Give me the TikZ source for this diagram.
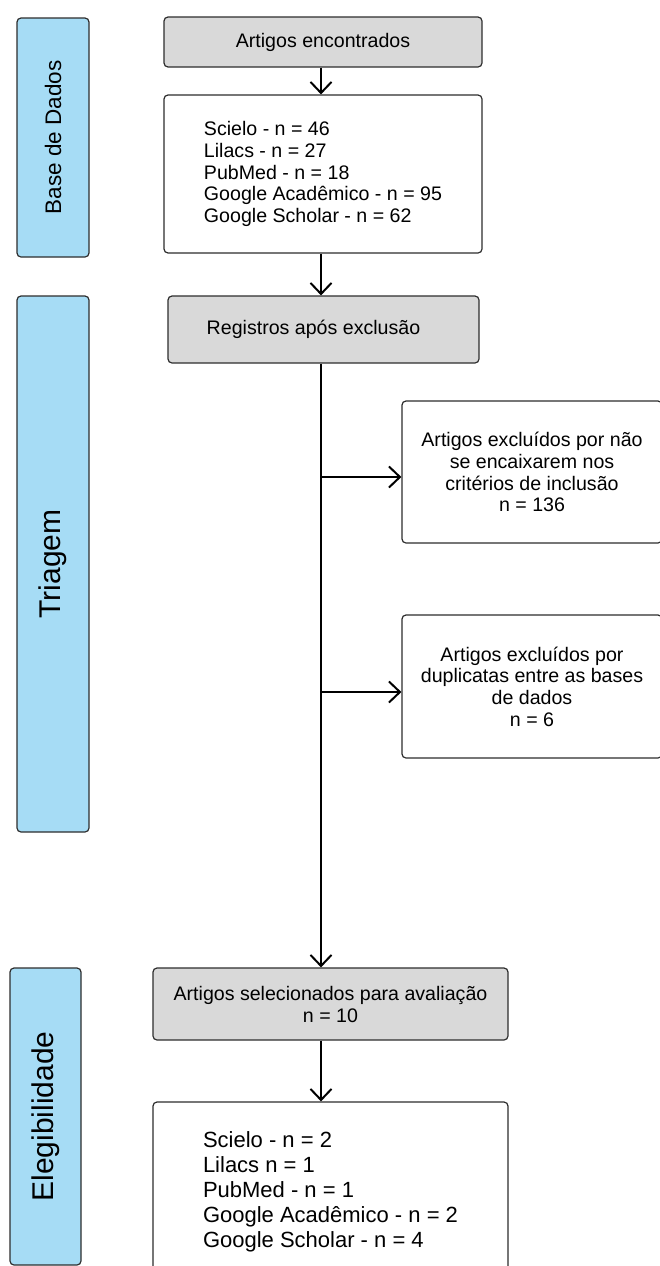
\documentclass[tikz,border=0pt]{standalone}
\usepackage{fontspec}
\setmainfont{Liberation Sans}
\usetikzlibrary{arrows.meta}
\definecolor{lanefill}{HTML}{A6DCF5}
\definecolor{grayfill}{HTML}{D9D9D9}
\definecolor{edgecol}{HTML}{2E2E2E}
\tikzset{
  lanebox/.style={draw=edgecol, fill=lanefill, line width=1.2pt, rounded corners=4pt, rotate=90, inner sep=0pt},
  graybox/.style={draw=edgecol, fill=grayfill, line width=1.2pt, rounded corners=4pt, align=center, inner sep=0pt, font=\fontsize{19.6}{22}\selectfont},
  whitebox/.style={draw=edgecol, fill=white, line width=1.2pt, rounded corners=4pt, align=center, inner sep=0pt, font=\fontsize{19.6}{21.75}\selectfont},
  listbox/.style={whitebox, align=left},
  flow/.style={line width=2pt, -{Straight Barb[length=11pt,width=21pt,line width=2pt]}},
}
\begin{document}
\begin{tikzpicture}[x=1pt, y=-1pt]
\useasboundingbox (0,0) rectangle (660,1266);
\fill[white] (0,0) rectangle (660,1266);
\clip (0,0) rectangle (660,1266);

% lanes
\node[lanebox, minimum width=239pt, minimum height=72pt, font=\fontsize{22.5}{26}\selectfont] (lane1) at (53,137.5) {Base de Dados};
\node[lanebox, minimum width=536pt, minimum height=72pt, font=\fontsize{30}{34}\selectfont] (lane2) at (53,564) {Triagem};
\node[lanebox, minimum width=297pt, minimum height=71pt, font=\fontsize{30}{34}\selectfont] (lane3) at (45.5,1116.5) {Elegibilidade};

% boxes
\node[graybox, minimum width=318pt, minimum height=50pt] (g1) at (323,42) {Artigos encontrados};
\node[listbox, minimum width=318pt, minimum height=158pt] (w1) at (323,174)
  {Scielo - n = 46\\ Lilacs - n = 27\\ PubMed - n = 18\\ Google Acadêmico - n = 95\\ Google Scholar - n = 62};
\node[graybox, minimum width=311pt, minimum height=67pt] (g2) at (323.5,329.5) {Registros após exclusão\hspace*{20pt}};
\node[whitebox, minimum width=260pt, minimum height=142pt] (r1) at (532,472)
  {Artigos excluídos por não\\ se encaixarem nos\\ critérios de inclusão\\ n = 136};
\node[whitebox, minimum width=260pt, minimum height=143pt] (r2) at (532,686.5)
  {Artigos excluídos por\\ duplicatas entre as bases\\ de dados\\ n = 6};
\node[graybox, minimum width=355pt, minimum height=72pt] (g3) at (330.5,1004)
  {Artigos selecionados para avaliação\\ n = 10};
\node[listbox, minimum width=355pt, minimum height=180pt, font=\fontsize{22}{25}\selectfont] (w4) at (330.5,1192)
  {Scielo - n = 2\\ Lilacs n = 1\\ PubMed - n = 1\\ Google Acadêmico - n = 2\\ Google Scholar - n = 4};

% junctions
\coordinate (j1) at (321,477);
\coordinate (j2) at (321,692);

% connectors
\draw[flow] (g1.south -| j1) -- (w1.north -| j1);
\draw[flow] (w1.south -| j1) -- (g2.north -| j1);
\draw[flow] (g2.south -| j1) -- (g3.north -| j1);
\draw[flow] (j1) -- (r1.west |- j1);
\draw[flow] (j2) -- (r2.west |- j2);
\draw[flow] (g3.south -| j1) -- (w4.north -| j1);
\end{tikzpicture}
\end{document}
